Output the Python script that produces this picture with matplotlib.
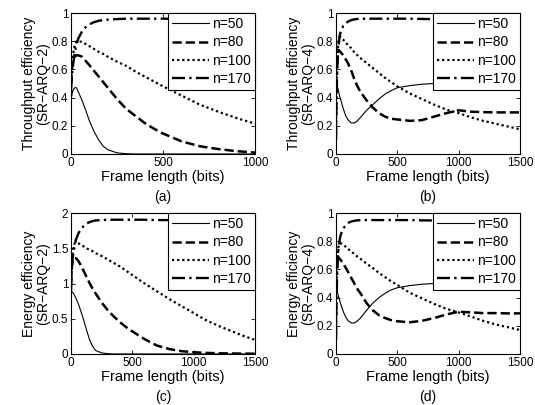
import matplotlib
matplotlib.use("Agg")
import matplotlib.pyplot as plt

plt.rcParams['font.family'] = ['Liberation Sans', 'DejaVu Sans']

# frame lengths (bits)
xa = [0, 5, 10, 20, 30, 40, 60, 80, 100, 125, 150, 175, 200, 250, 300, 350,
      400, 450, 500, 600, 700, 800, 900, 1000]
xb = [0, 5, 10, 20, 30, 40, 60, 80, 100, 125, 150, 175, 200, 250, 300, 350,
      400, 450, 500, 600, 700, 800, 900, 1000, 1100, 1200, 1300, 1400, 1500]

labels = ['n=50', 'n=80', 'n=100', 'n=170']

# (a) throughput efficiency, SR-ARQ-2
a_n50 = [0.38, 0.42, 0.45, 0.47, 0.47, 0.44, 0.38, 0.31, 0.235, 0.16, 0.10, 0.055,
         0.03, 0.008, 0.002, 0, 0, 0, 0, 0, 0, 0, 0, 0]
a_n80 = [0.5, 0.6, 0.65, 0.69, 0.70, 0.70, 0.69, 0.66, 0.63, 0.59, 0.55, 0.51,
         0.47, 0.39, 0.32, 0.27, 0.22, 0.18, 0.145, 0.09, 0.055, 0.035, 0.02, 0.01]
a_n100 = [0.5, 0.62, 0.70, 0.77, 0.80, 0.80, 0.795, 0.78, 0.765, 0.745, 0.725, 0.71,
          0.69, 0.655, 0.625, 0.585, 0.55, 0.515, 0.48, 0.415, 0.35, 0.30, 0.255, 0.215]
a_n170 = [0.45, 0.55, 0.62, 0.72, 0.78, 0.82, 0.87, 0.90, 0.92, 0.935, 0.945, 0.95,
          0.953, 0.957, 0.96, 0.96, 0.96, 0.96, 0.96, 0.958, 0.956, 0.955, 0.954, 0.953]

# (b) throughput efficiency, SR-ARQ-4
b_n50 = [0.50, 0.50, 0.48, 0.45, 0.41, 0.38, 0.32, 0.27, 0.24, 0.22, 0.22, 0.235,
         0.26, 0.31, 0.35, 0.39, 0.425, 0.45, 0.47, 0.485, 0.495, 0.50, 0.50, 0.50,
         0.50, 0.50, 0.50, 0.50, 0.50]
b_n80 = [0.74, 0.74, 0.74, 0.735, 0.73, 0.72, 0.70, 0.67, 0.64, 0.59, 0.53, 0.48,
         0.44, 0.38, 0.33, 0.29, 0.265, 0.25, 0.245, 0.235, 0.24, 0.265, 0.29, 0.31,
         0.30, 0.297, 0.295, 0.295, 0.295]
b_n100 = [0.1, 0.45, 0.65, 0.80, 0.83, 0.83, 0.81, 0.79, 0.77, 0.75, 0.72, 0.70,
          0.68, 0.645, 0.61, 0.575, 0.54, 0.51, 0.48, 0.43, 0.39, 0.35, 0.315, 0.29,
          0.26, 0.235, 0.215, 0.195, 0.175]
b_n170 = [0.1, 0.4, 0.6, 0.76, 0.84, 0.87, 0.91, 0.93, 0.94, 0.95, 0.955, 0.958,
          0.96, 0.96, 0.96, 0.96, 0.96, 0.96, 0.96, 0.96, 0.958, 0.957, 0.956, 0.955,
          0.955, 0.955, 0.955, 0.955, 0.955]

# (c) energy efficiency, SR-ARQ-2
c_n50 = [0.80, 0.87, 0.88, 0.86, 0.83, 0.79, 0.71, 0.61, 0.50, 0.35, 0.21, 0.11,
         0.05, 0.015, 0.004, 0, 0, 0, 0, 0, 0, 0, 0, 0, 0, 0, 0, 0, 0]
c_n80 = [1.0, 1.2, 1.28, 1.34, 1.36, 1.36, 1.32, 1.26, 1.19, 1.10, 1.01, 0.93,
         0.86, 0.73, 0.62, 0.53, 0.45, 0.38, 0.32, 0.21, 0.12, 0.07, 0.04, 0.025,
         0.015, 0.01, 0.007, 0.005, 0.004]
c_n100 = [0.9, 1.2, 1.38, 1.52, 1.57, 1.58, 1.57, 1.55, 1.53, 1.50, 1.48, 1.46,
          1.43, 1.39, 1.34, 1.29, 1.24, 1.18, 1.12, 1.00, 0.89, 0.78, 0.68, 0.58,
          0.48, 0.40, 0.33, 0.26, 0.20]
c_n170 = [0.9, 1.15, 1.3, 1.45, 1.55, 1.62, 1.71, 1.77, 1.81, 1.85, 1.87, 1.885,
          1.895, 1.90, 1.905, 1.905, 1.905, 1.905, 1.905, 1.905, 1.90, 1.90, 1.90,
          1.90, 1.90, 1.90, 1.90, 1.90, 1.90]

# (d) energy efficiency, SR-ARQ-4
d_n50 = [0.45, 0.45, 0.44, 0.41, 0.38, 0.35, 0.30, 0.26, 0.235, 0.22, 0.22, 0.235,
         0.255, 0.31, 0.36, 0.40, 0.43, 0.455, 0.47, 0.485, 0.495, 0.50, 0.50, 0.50,
         0.50, 0.50, 0.50, 0.50, 0.50]
d_n80 = [0.68, 0.69, 0.69, 0.685, 0.675, 0.665, 0.64, 0.61, 0.58, 0.54, 0.50, 0.46,
         0.43, 0.36, 0.31, 0.275, 0.255, 0.24, 0.232, 0.225, 0.235, 0.255, 0.28, 0.30,
         0.295, 0.29, 0.29, 0.288, 0.288]
d_n100 = [0.1, 0.45, 0.63, 0.76, 0.785, 0.785, 0.775, 0.76, 0.745, 0.725, 0.71, 0.69,
          0.675, 0.64, 0.61, 0.575, 0.545, 0.515, 0.49, 0.435, 0.395, 0.355, 0.32, 0.295,
          0.265, 0.235, 0.21, 0.19, 0.17]
d_n170 = [0.1, 0.4, 0.58, 0.74, 0.81, 0.85, 0.89, 0.915, 0.93, 0.94, 0.945, 0.948,
          0.95, 0.95, 0.95, 0.95, 0.95, 0.95, 0.95, 0.95, 0.948, 0.947, 0.946, 0.945,
          0.945, 0.945, 0.945, 0.945, 0.945]

styles = [dict(ls='-', lw=0.8),
          dict(ls=(0, (3.7, 1.6)), lw=1.8),
          dict(ls=(0, (1, 1.3)), lw=1.6),
          dict(ls=(0, (5.5, 1.8, 1, 1.8)), lw=1.7)]

panels = [
    (xa, [a_n50, a_n80, a_n100, a_n170], 1000, 1, 'Throughput efficiency\n(SR\u2212ARQ\u22122)', '(a)'),
    (xb, [b_n50, b_n80, b_n100, b_n170], 1500, 1, 'Throughput efficiency\n(SR\u2212ARQ\u22124)', '(b)'),
    (xb, [c_n50, c_n80, c_n100, c_n170], 1500, 2, 'Energy efficiency\n(SR\u2212ARQ\u22122)', '(c)'),
    (xb, [d_n50, d_n80, d_n100, d_n170], 1500, 1, 'Energy efficiency\n(SR\u2212ARQ\u22124)', '(d)'),
]

fig = plt.figure(figsize=(5.35, 4.05), dpi=100)
boxes = [(0.1327, 0.6198), (0.628, 0.6198), (0.1327, 0.126), (0.628, 0.126)]
w, h = 0.344, 0.348

for (x, ys, xmax, ymax, ylab, cap), (l, b) in zip(panels, boxes):
    ax = fig.add_axes([l, b, w, h])
    for y, st, lab in zip(ys, styles, labels):
        ax.plot(x, y, color='black', label=lab, **st)
    ax.set_xlim(0, xmax)
    ax.set_ylim(0, ymax)
    ax.set_xticks(range(0, xmax + 1, 500))
    if ymax == 2:
        ax.set_yticks([0, 0.5, 1, 1.5, 2])
        ax.set_yticklabels(['0', '0.5', '1', '1.5', '2'])
    else:
        ax.set_yticks([0, 0.2, 0.4, 0.6, 0.8, 1])
        ax.set_yticklabels(['0', '0.2', '0.4', '0.6', '0.8', '1'])
    ax.tick_params(direction='in', top=True, right=True, length=3, width=0.6,
                   labelsize=8.5, pad=2)
    for s in ax.spines.values():
        s.set_linewidth(0.8)
    ax.set_xlabel('Frame length (bits)', fontsize=10.5, labelpad=1)
    ax.set_ylabel(ylab, fontsize=10, labelpad=1, linespacing=1.0)
    ax.text(0.5, -0.305, cap, transform=ax.transAxes, ha='center', va='center',
            fontsize=10)
    leg = ax.legend(loc='upper right', borderaxespad=0, fancybox=False,
                    framealpha=1, edgecolor='black', fontsize=10,
                    handlelength=2.6, handletextpad=0.25, labelspacing=0.3,
                    borderpad=0.3)
    leg.get_frame().set_linewidth(0.8)

plt.savefig('out.png', dpi=100)
